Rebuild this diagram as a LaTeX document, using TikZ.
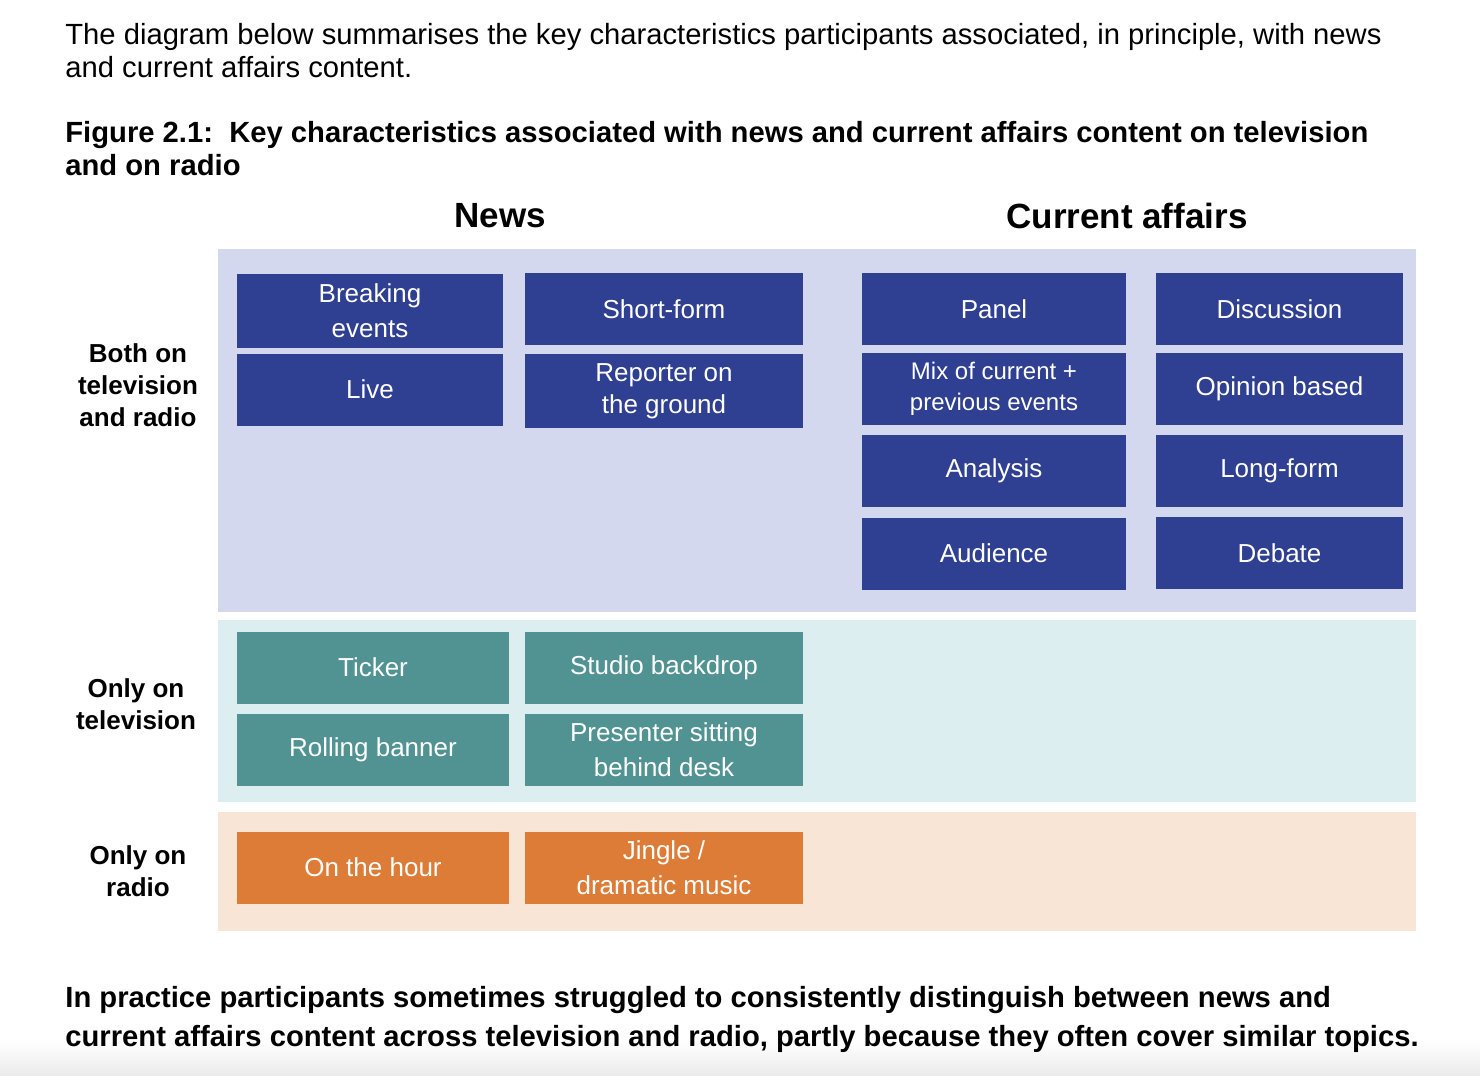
\documentclass[tikz,border=0pt]{standalone}
\usepackage{fontspec}
\setmainfont{Liberation Sans}
\definecolor{navybox}{RGB}{47,63,146}
\definecolor{navyback}{RGB}{212,216,239}
\definecolor{tealbox}{RGB}{81,147,146}
\definecolor{tealback}{RGB}{221,238,240}
\definecolor{orangebox}{RGB}{221,124,55}
\definecolor{orangeback}{RGB}{249,229,213}
\begin{document}
\begin{tikzpicture}[x=0.5pt,y=-0.5pt]
            \tikzset{every node/.style={inner sep=0pt},
                cell/.style={minimum height=36pt, align=center, text=white,
                    font=\fontsize{13}{17.5}\selectfont},
                navycell/.style={cell, fill=navybox},
                tealcell/.style={cell, fill=tealbox},
                orangecell/.style={cell, fill=orangebox},
                rowlabel/.style={align=center, font=\bfseries\fontsize{13}{16}\selectfont},
                colhead/.style={font=\bfseries\fontsize{17.5}{20}\selectfont},
                plain/.style={anchor=base west, font=\fontsize{14.6}{16}\selectfont},
                strong/.style={anchor=base west, font=\bfseries\fontsize{14.6}{16}\selectfont}}
                \useasboundingbox (0,0) rectangle (1480,1076);
                \shade [top color=white, bottom color=black!8] (0,1040) rectangle (1480,1076);
                % text round the figure
                \node [plain] (intro1) at (65,44) {The diagram below summarises the key characteristics participants associated, in principle, with news};
                \node [plain] (intro2) at (65,77) {and current affairs content.};
                \node [strong] (title1) at (65,142) {Figure 2.1:\ \ Key characteristics associated with news and current affairs content on television};
                \node [strong] (title2) at (65,175) {and on radio};
                \node [strong] (note1) at (65,1007) {In practice participants sometimes struggled to consistently distinguish between news and};
                \node [strong] (note2) at (65,1046) {current affairs content across television and radio, partly because they often cover similar topics.};
                % bands
                \fill [navyback] (218,249) rectangle (1416,612);
                \fill [tealback] (218,620) rectangle (1416,802);
                \fill [orangeback] (218,812) rectangle (1416,931);
                % headings
                \node [colhead] (news) at (500,216) {News};
                \node [colhead] (affairs) at (1127,216) {Current affairs};
                \node [rowlabel] (both) at (138,385) {Both on\\television\\and radio};
                \node [rowlabel] (tvonly) at (136,704) {Only on\\television};
                \node [rowlabel] (radioonly) at (138,871) {Only on\\radio};
                % news, both
                \node [navycell, minimum width=133pt, minimum height=37pt] (breaking) at (370,311) {Breaking\\events};
                \node [navycell, minimum width=133pt] (live) at (370,389.5) {Live};
                \node [navycell, minimum width=139pt] (shortform) at (664,309) {Short-form};
                \node [navycell, minimum width=139pt, minimum height=37pt, font=\fontsize{13}{16}\selectfont] (reporter) at (664,391) {Reporter on\\the ground};
                % current affairs, both
                \node [navycell, minimum width=132pt] (panel) at (994,309) {Panel};
                \node [navycell, minimum width=132pt, font=\fontsize{12}{15.5}\selectfont] (mix) at (994,389) {Mix of current +\\previous events};
                \node [navycell, minimum width=132pt] (analysis) at (994,471) {Analysis};
                \node [navycell, minimum width=132pt] (audience) at (994,553.5) {Audience};
                \node [navycell, minimum width=123.5pt] (discussion) at (1279.5,309) {Discussion};
                \node [navycell, minimum width=123.5pt] (opinion) at (1279.5,389) {Opinion based};
                \node [navycell, minimum width=123.5pt] (longform) at (1279.5,471) {Long-form};
                \node [navycell, minimum width=123.5pt] (debate) at (1279.5,553) {Debate};
                % television only
                \node [tealcell, minimum width=136pt] (ticker) at (373,667.5) {Ticker};
                \node [tealcell, minimum width=136pt] (rolling) at (373,749.5) {Rolling banner};
                \node [tealcell, minimum width=139pt] (backdrop) at (664,667.5) {Studio backdrop};
                \node [tealcell, minimum width=139pt] (presenter) at (664,750) {Presenter sitting\\behind desk};
                % radio only
                \node [orangecell, minimum width=136pt] (hour) at (373,867.5) {On the hour};
                \node [orangecell, minimum width=139pt] (jingle) at (664,867.5) {Jingle /\\dramatic music};
            \end{tikzpicture}
\end{document}
